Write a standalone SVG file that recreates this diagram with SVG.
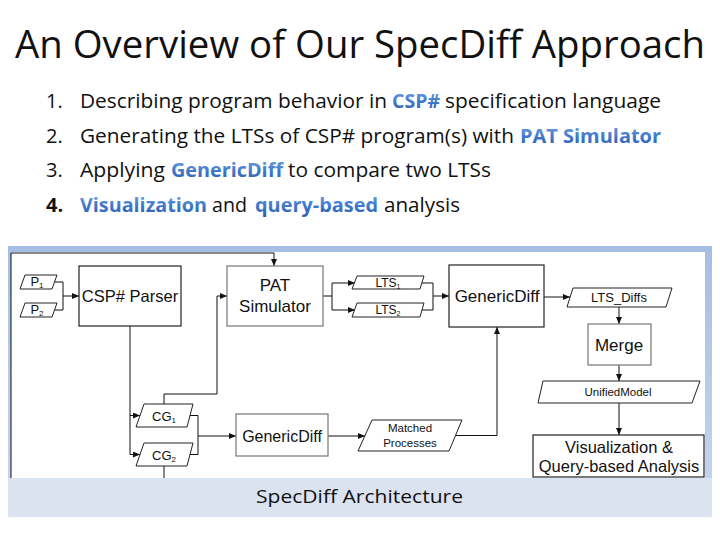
<svg xmlns="http://www.w3.org/2000/svg" width="720" height="540" viewBox="0 0 720 540">
<defs>
<linearGradient id="wa" x1="0" y1="0" x2="0" y2="1">
<stop offset="0" stop-color="#7aaae6"/>
<stop offset="0.55" stop-color="#3f78cc"/>
<stop offset="1" stop-color="#2a5aa8"/>
</linearGradient>
<linearGradient id="rb" x1="0" y1="0" x2="0" y2="1">
<stop offset="0" stop-color="#a6bee3"/>
<stop offset="1" stop-color="#c9d7ee"/>
</linearGradient>
<marker id="ah" markerWidth="7" markerHeight="6" refX="7" refY="3" orient="auto" markerUnits="userSpaceOnUse">
<path d="M0,0 L7,3 L0,6 z" fill="#111"/>
</marker>
<style>
.t{font-family:"Open Sans","Liberation Sans",sans-serif;fill:#111}
.w{font-family:"Open Sans","Liberation Sans",sans-serif;font-weight:bold;fill:url(#wa)}
.d{font-family:"Liberation Sans",Arial,sans-serif;fill:#111;text-anchor:middle}
.box{fill:#fff;stroke:#222;stroke-width:1.2}
.gbox{fill:#fff;stroke:#777;stroke-width:1.2}
.pg{fill:#fff;stroke:#222;stroke-width:1}
.c{fill:none;stroke:#111;stroke-width:1}
.a{fill:none;stroke:#111;stroke-width:1;marker-end:url(#ah)}
</style>
</defs>
<rect x="0" y="0" width="720" height="540" fill="#fff"/>
<text class="t" x="15" y="58" font-size="39" textLength="690" lengthAdjust="spacingAndGlyphs">An Overview of Our SpecDiff Approach</text>
<g font-size="20">
<text class="t" x="46" y="108">1.</text>
<text class="t" x="80" y="108" textLength="307" lengthAdjust="spacingAndGlyphs">Describing program behavior in</text>
<text class="w" x="392" y="108" textLength="48" lengthAdjust="spacingAndGlyphs">CSP#</text>
<text class="t" x="445" y="108" textLength="216" lengthAdjust="spacingAndGlyphs">specification language</text>
<text class="t" x="46" y="143">2.</text>
<text class="t" x="80" y="143" textLength="434" lengthAdjust="spacingAndGlyphs">Generating the LTSs of CSP# program(s) with</text>
<text class="w" x="520" y="143" textLength="141" lengthAdjust="spacingAndGlyphs">PAT Simulator</text>
<text class="t" x="46" y="177">3.</text>
<text class="t" x="80" y="177" textLength="85" lengthAdjust="spacingAndGlyphs">Applying</text>
<text class="w" x="171" y="177" textLength="112" lengthAdjust="spacingAndGlyphs">GenericDiff</text>
<text class="t" x="288" y="177" textLength="203" lengthAdjust="spacingAndGlyphs">to compare two LTSs</text>
<text class="t" x="46" y="212" font-weight="bold">4.</text>
<text class="w" x="80" y="212" textLength="127" lengthAdjust="spacingAndGlyphs">Visualization</text>
<text class="t" x="212" y="212" textLength="35" lengthAdjust="spacingAndGlyphs">and</text>
<text class="w" x="255" y="212" textLength="123" lengthAdjust="spacingAndGlyphs">query-based</text>
<text class="t" x="384" y="212" textLength="76" lengthAdjust="spacingAndGlyphs">analysis</text>
</g>
<rect x="8" y="246" width="704" height="271" fill="url(#rb)"/>
<rect x="11" y="252" width="694" height="226" fill="#fff"/>
<rect x="8" y="478" width="704" height="39" fill="#dbe3f1"/>
<text class="t" x="256" y="503" font-size="19" textLength="207" lengthAdjust="spacingAndGlyphs">SpecDiff Architecture</text>
<g id="connectors">
<polyline class="c" points="54.5,282 63,282 63,310 54.5,310"/>
<line class="a" x1="63" y1="296" x2="79" y2="296"/>
<line class="c" x1="130" y1="326" x2="130" y2="454.5"/>
<line class="a" x1="130" y1="415.5" x2="140" y2="415.5"/>
<line class="a" x1="130" y1="454.5" x2="140" y2="454.5"/>
<polyline class="a" points="164,404 164,394 217,394 217,296 227,296"/>
<polyline class="c" points="190,415.5 198,415.5 198,454.5 190,454.5"/>
<line class="a" x1="198" y1="436" x2="236" y2="436"/>
<line class="c" x1="164" y1="466" x2="164" y2="478"/>
<polyline class="a" points="11,478 11,253 274,253 274,266"/>
<line class="c" x1="323" y1="296" x2="332" y2="296"/>
<line class="c" x1="332" y1="283" x2="332" y2="310"/>
<line class="a" x1="332" y1="283" x2="355" y2="283"/>
<line class="a" x1="332" y1="310" x2="355" y2="310"/>
<polyline class="c" points="422,283 433,283 433,310 418,310"/>
<line class="a" x1="433" y1="296" x2="449" y2="296"/>
<line class="a" x1="544" y1="297" x2="570" y2="297"/>
<line class="a" x1="619" y1="307" x2="619" y2="324"/>
<line class="a" x1="619" y1="365" x2="619" y2="381"/>
<line class="a" x1="619" y1="403" x2="619" y2="435"/>
<line class="a" x1="328" y1="436" x2="365" y2="436"/>
<polyline class="a" points="455.5,435.5 497,435.5 497,327"/>
</g>
<g id="p1"><polygon class="pg" points="25,275 57,275 52,289 20,289"/><text class="d" x="37" y="286" font-size="13">P<tspan font-size="8" dy="2">1</tspan></text></g>
<g id="p2"><polygon class="pg" points="25,303 57,303 52,317 20,317"/><text class="d" x="37" y="314" font-size="13">P<tspan font-size="8" dy="2">2</tspan></text></g>
<g id="parser"><rect class="box" x="79" y="266" width="102" height="60"/><text class="d" x="130" y="302" font-size="16.5">CSP# Parser</text></g>
<g id="pat"><rect class="gbox" x="227" y="266" width="96" height="60"/><text class="d" x="275" y="291" font-size="17">PAT</text><text class="d" x="275" y="312" font-size="17">Simulator</text></g>
<g id="lts1"><polygon class="pg" points="357,276 424,276 420,289 352,289"/><text class="d" x="388" y="287" font-size="12">LTS<tspan font-size="7" dy="2">1</tspan></text></g>
<g id="lts2"><polygon class="pg" points="357,303 424,303 420,317 352,317"/><text class="d" x="388" y="314" font-size="12">LTS<tspan font-size="7" dy="2">2</tspan></text></g>
<g id="gd1"><rect class="box" x="449" y="265" width="95" height="62"/><text class="d" x="497" y="302" font-size="17">GenericDiff</text></g>
<g id="ltsdiffs"><polygon class="pg" points="573,288 672,288 666,307 567,307"/><text class="d" x="619" y="302" font-size="13">LTS_Diffs</text></g>
<g id="merge"><rect class="gbox" x="588" y="324" width="63" height="41"/><text class="d" x="619" y="351" font-size="17">Merge</text></g>
<g id="unified"><polygon class="pg" points="543,381 700,381 692,403 538,403"/><text class="d" x="618" y="396" font-size="11.5">UnifiedModel</text></g>
<g id="viz"><rect class="box" x="533" y="435" width="171" height="42"/><text class="d" x="619" y="453" font-size="16.5">Visualization &amp;</text><text class="d" x="619" y="472" font-size="16.5">Query-based Analysis</text></g>
<g id="cg1"><polygon class="pg" points="144,404 193,404 187,427 136,427"/><text class="d" x="164" y="421" font-size="13">CG<tspan font-size="8" dy="2">1</tspan></text></g>
<g id="cg2"><polygon class="pg" points="144,443 193,443 187,466 136,466"/><text class="d" x="164" y="460" font-size="13">CG<tspan font-size="8" dy="2">2</tspan></text></g>
<g id="gd2"><rect class="gbox" x="236" y="414" width="92" height="42"/><text class="d" x="282" y="442" font-size="16">GenericDiff</text></g>
<g id="matched"><polygon class="pg" points="372,420 462,420 449,451 358,451"/><text class="d" x="410" y="432" font-size="11.5">Matched</text><text class="d" x="410" y="447" font-size="11.5">Processes</text></g>
</svg>
